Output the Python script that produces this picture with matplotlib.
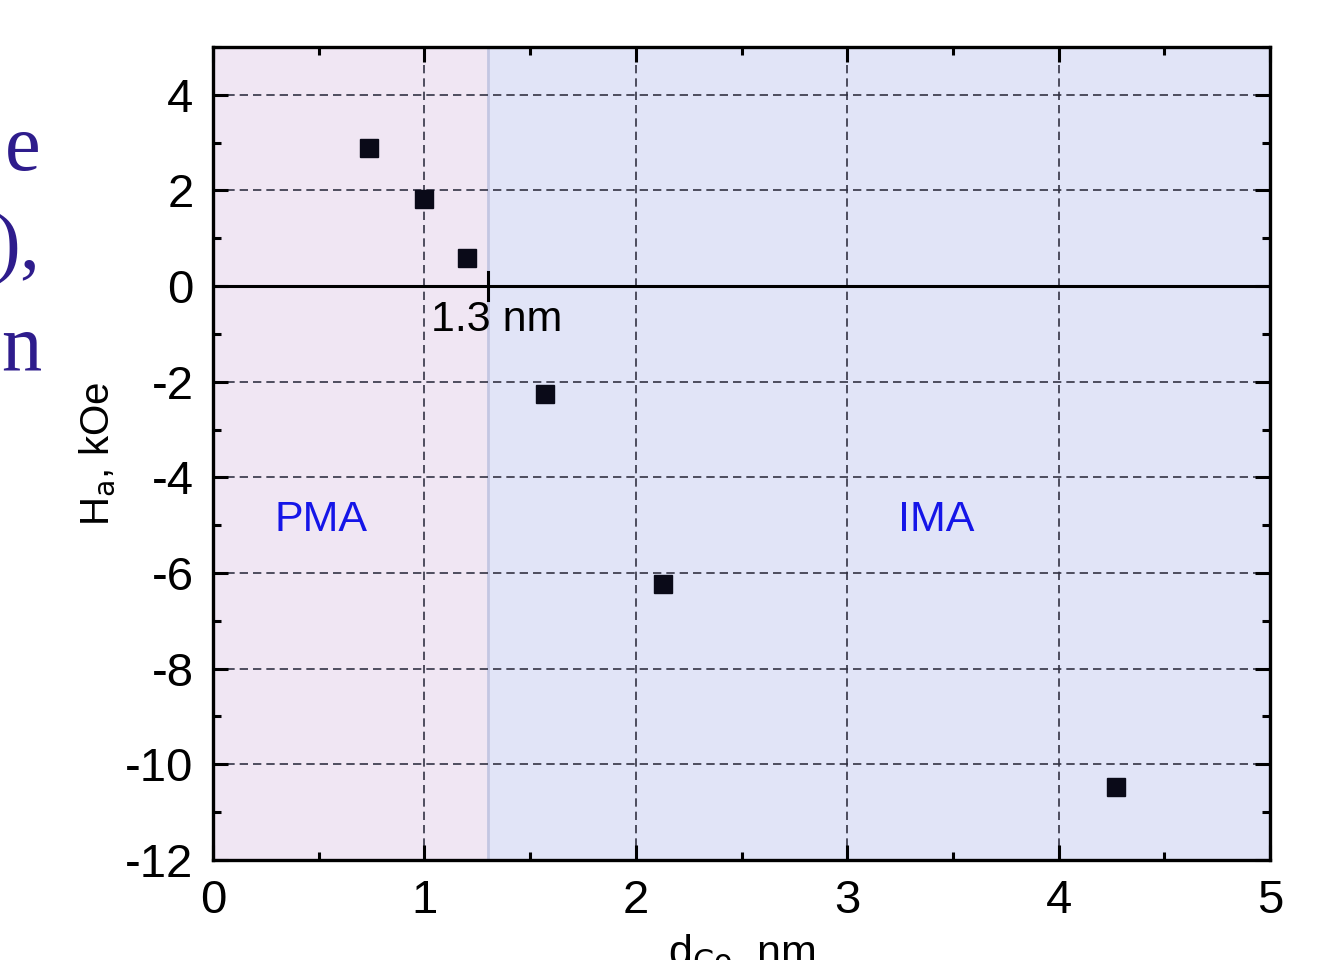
import numpy as np
import matplotlib.pyplot as plt
from matplotlib.ticker import MultipleLocator

# Messdaten
d_co = [0.74, 1.0, 1.2, 1.57, 2.13, 4.27]
h_a = [2.89, 1.82, 0.59, -2.26, -6.22, -10.47]
d_crit = 1.3

plt.rcParams['font.family'] = ['Liberation Sans', 'DejaVu Sans']
plt.rcParams['axes.unicode_minus'] = False

fig = plt.figure(figsize=(13.2, 9.6), dpi=100)
ax = fig.add_axes([0.1614, 0.1042, 0.8007, 0.8469])

ax.axvspan(0, d_crit, color='#f0e6f3', zorder=0)
ax.axvspan(d_crit, 5, color='#e1e4f7', zorder=0)
ax.axvline(d_crit, color='#c3c6e2', lw=2, zorder=1)

ax.grid(True, which='major', ls=(0, (5, 3)), color='#333344', lw=1.2, zorder=1)
ax.axhline(0, color='black', lw=2.2, zorder=2)
ax.plot([d_crit, d_crit], [-0.3, 0.3], color='black', lw=2.2, zorder=2)

ax.plot(d_co, h_a, 's', color='#0a0a18', markersize=13, zorder=3)

ax.text(1.03, -0.3, '1.3 nm', fontsize=31, va='top', ha='left', zorder=4)
ax.text(0.51, -4.9, 'PMA', fontsize=31, color='#1515e8', ha='center', va='center')
ax.text(3.42, -4.9, 'IMA', fontsize=31, color='#1515e8', ha='center', va='center')

ax.set_xlim(0, 5)
ax.set_ylim(-12, 5)
ax.xaxis.set_major_locator(MultipleLocator(1))
ax.xaxis.set_minor_locator(MultipleLocator(0.5))
ax.yaxis.set_major_locator(MultipleLocator(2))
ax.yaxis.set_minor_locator(MultipleLocator(1))
ax.tick_params(which='both', direction='in', top=True, right=True, width=2.2, labelsize=34)
ax.tick_params(which='major', length=11)
ax.tick_params(which='minor', length=6)
ax.tick_params(axis='x', pad=14)
ax.tick_params(axis='y', pad=14)
for s in ax.spines.values():
    s.set_linewidth(2.4)

ax.set_xlabel(r'd$_{\rm Co}$, nm', fontsize=31, labelpad=7)
ax.set_ylabel(r'H$_{\rm a}$, kOe', fontsize=29, labelpad=6)

# Reste vom Folientext links
for txt, y in [('e', 0.823), ('),', 0.72), ('n', 0.615)]:
    fig.text(0.031, y, txt, fontsize=58, family='Liberation Serif',
             color='#2e1c8c', ha='right', va='baseline')

plt.savefig('out.png', dpi=100)
